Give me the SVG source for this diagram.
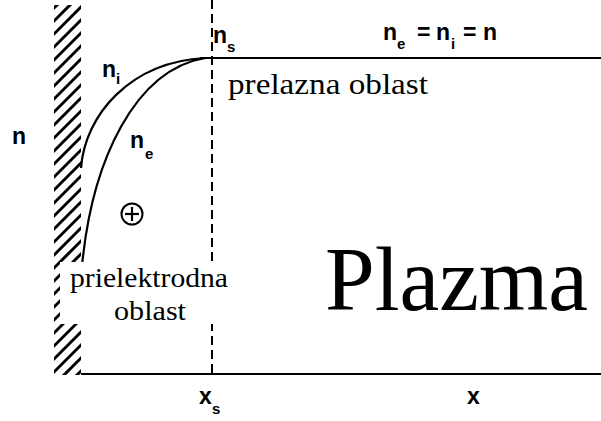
<svg xmlns="http://www.w3.org/2000/svg" width="601" height="421" viewBox="0 0 601 421">
<style>
.sans{font-family:"Liberation Sans",Arial,sans-serif;font-weight:bold;fill:#000}
.big{font-size:23px}
.sub{font-size:15px}
.serif{font-family:"Liberation Serif","Times New Roman",serif;fill:#000}
.ln{stroke:#000;stroke-width:2;fill:none}
.curve{stroke:#000;stroke-width:2.2;fill:none}
.hatch{stroke:#000;stroke-width:3}
</style>
<defs>
<clipPath id="wallclip"><rect x="54" y="5" width="27" height="370"/></clipPath>
</defs>
<rect width="601" height="421" fill="#fff"/>
<g id="wall" clip-path="url(#wallclip)">
<g class="hatch">
<line x1="50" y1="-14" x2="85" y2="-49"/>
<line x1="50" y1="-1" x2="85" y2="-36"/>
<line x1="50" y1="12" x2="85" y2="-23"/>
<line x1="50" y1="25" x2="85" y2="-10"/>
<line x1="50" y1="38" x2="85" y2="3"/>
<line x1="50" y1="51" x2="85" y2="16"/>
<line x1="50" y1="64" x2="85" y2="29"/>
<line x1="50" y1="77" x2="85" y2="42"/>
<line x1="50" y1="90" x2="85" y2="55"/>
<line x1="50" y1="103" x2="85" y2="68"/>
<line x1="50" y1="116" x2="85" y2="81"/>
<line x1="50" y1="129" x2="85" y2="94"/>
<line x1="50" y1="142" x2="85" y2="107"/>
<line x1="50" y1="155" x2="85" y2="120"/>
<line x1="50" y1="168" x2="85" y2="133"/>
<line x1="50" y1="181" x2="85" y2="146"/>
<line x1="50" y1="194" x2="85" y2="159"/>
<line x1="50" y1="207" x2="85" y2="172"/>
<line x1="50" y1="220" x2="85" y2="185"/>
<line x1="50" y1="233" x2="85" y2="198"/>
<line x1="50" y1="246" x2="85" y2="211"/>
<line x1="50" y1="259" x2="85" y2="224"/>
<line x1="50" y1="272" x2="85" y2="237"/>
<line x1="50" y1="285" x2="85" y2="250"/>
<line x1="50" y1="298" x2="85" y2="263"/>
<line x1="50" y1="311" x2="85" y2="276"/>
<line x1="50" y1="324" x2="85" y2="289"/>
<line x1="50" y1="337" x2="85" y2="302"/>
<line x1="50" y1="350" x2="85" y2="315"/>
<line x1="50" y1="363" x2="85" y2="328"/>
<line x1="50" y1="376" x2="85" y2="341"/>
<line x1="50" y1="389" x2="85" y2="354"/>
<line x1="50" y1="402" x2="85" y2="367"/>
<line x1="50" y1="415" x2="85" y2="380"/>
</g>
</g>
<g id="connectors">
<line class="ln" x1="212" y1="0" x2="212" y2="373" stroke-dasharray="9,5" stroke-width="1.5"/>
<line class="ln" x1="200" y1="58" x2="601" y2="58"/>
<line class="ln" x1="81" y1="374" x2="601" y2="374"/>
<path id="ni-curve" class="curve" d="M81,168 C85,115 130,62 205,58"/>
<path id="ne-curve" class="curve" d="M82,266 C92,160 135,70 205,58"/>
</g>
<rect id="mask" x="60" y="262" width="172" height="62" fill="#fff"/>
<g id="labels">
<text class="sans big" x="12" y="144">n</text>
<text class="sans big" x="102" y="77">n<tspan class="sub" x="116" y="84">i</tspan></text>
<text class="sans big" x="130" y="148">n<tspan class="sub" x="145" y="159">e</tspan></text>
<text class="sans big" x="213" y="43">n<tspan class="sub" x="227" y="52">s</tspan></text>
<text class="sans big" x="383" y="40">n<tspan class="sub" x="397" y="49">e</tspan><tspan x="417" y="40">=</tspan><tspan x="436" y="40">n</tspan><tspan class="sub" x="451" y="49">i</tspan><tspan x="463" y="40">=</tspan><tspan x="483" y="40">n</tspan></text>
<text class="sans big" x="199" y="404">x<tspan class="sub" x="212" y="414">s</tspan></text>
<text class="sans big" x="467" y="404">x</text>
</g>
<g id="plus">
<circle cx="132" cy="214" r="10.5" fill="none" stroke="#000" stroke-width="2"/>
<line x1="125" y1="214" x2="139" y2="214" stroke="#000" stroke-width="2.2"/>
<line x1="132" y1="207" x2="132" y2="221" stroke="#000" stroke-width="2.2"/>
</g>
<g id="regions">
<text class="serif" x="228" y="94" font-size="29" textLength="200" lengthAdjust="spacingAndGlyphs">prelazna oblast</text>
<text class="serif" x="70" y="287" font-size="28" textLength="158" lengthAdjust="spacingAndGlyphs">prielektrodna</text>
<text class="serif" x="114" y="320" font-size="28" textLength="72" lengthAdjust="spacingAndGlyphs">oblast</text>
<text class="serif" x="325" y="310" font-size="92" textLength="263" lengthAdjust="spacingAndGlyphs">Plazma</text>
</g>
</svg>
